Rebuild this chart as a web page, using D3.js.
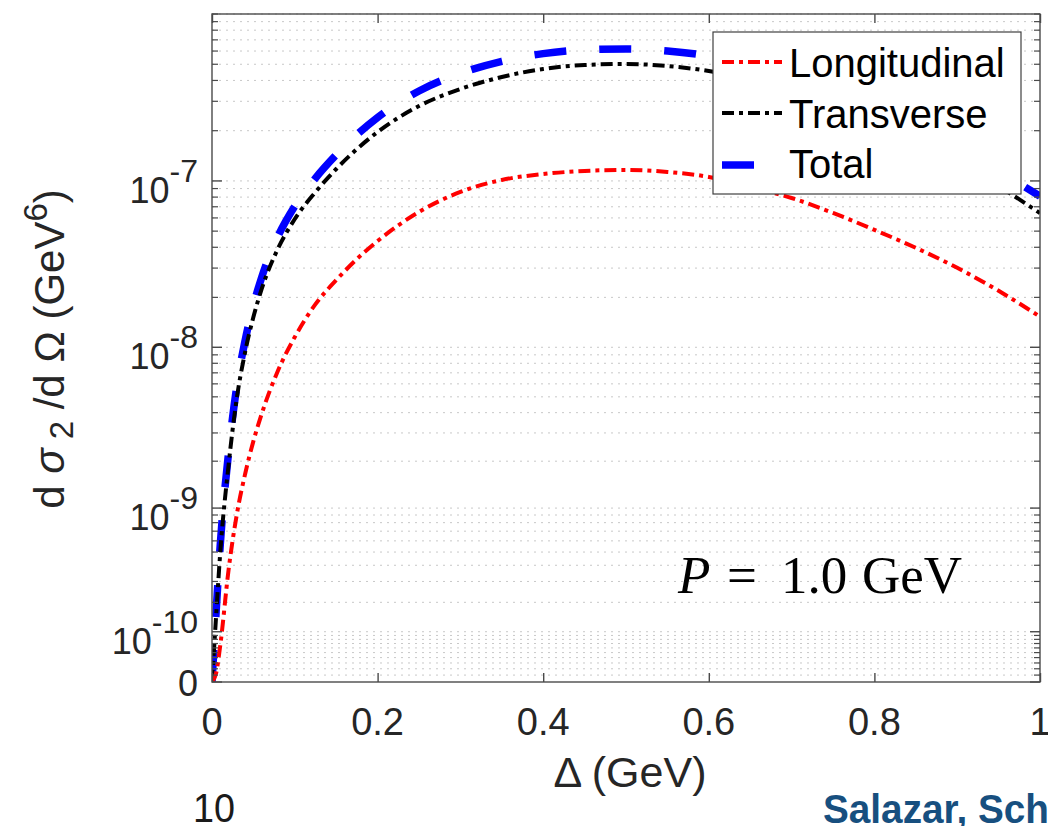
<!DOCTYPE html>
<html>
<head>
<meta charset="utf-8">
<script src="https://cdn.jsdelivr.net/npm/d3@7"></script>
<style>
  html, body { margin: 0; padding: 0; background: #fff; }
  svg { display: block; font-family: "Liberation Sans", Arial, Helvetica, sans-serif; }
</style>
</head>
<body>
<svg id="chart" width="1048" height="826"></svg>
<script>
// ---- data ----
const delta = [0, 0.005, 0.01, 0.02, 0.03, 0.04, 0.05, 0.06, 0.08, 0.1, 0.125, 0.15, 0.175, 0.2, 0.25, 0.3, 0.35, 0.4, 0.45, 0.5, 0.55, 0.6, 0.65, 0.7, 0.75, 0.8, 0.85, 0.9, 0.95, 1.0];
const longitudinal = [0, 1.3e-11, 6.6e-11, 3.69e-10, 9.1e-10, 1.66e-9, 2.67e-9, 3.93e-9, 7.28e-9, 1.154e-8, 1.82e-8, 2.54e-8, 3.40e-8, 4.36e-8, 6.52e-8, 8.59e-8, 1.014e-7, 1.10e-7, 1.148e-7, 1.164e-7, 1.132e-7, 1.057e-7, 9.2e-8, 7.9e-8, 6.43e-8, 5.09e-8, 3.97e-8, 3.01e-8, 2.19e-8, 1.53e-8];
const transverse = [0, 1.5e-10, 5.0e-10, 1.89e-9, 4.92e-9, 9.36e-9, 1.523e-8, 2.246e-8, 3.96e-8, 5.91e-8, 8.58e-8, 1.179e-7, 1.553e-7, 1.964e-7, 2.811e-7, 3.554e-7, 4.195e-7, 4.685e-7, 4.95e-7, 5.02e-7, 4.88e-7, 4.56e-7, 4.08e-7, 3.51e-7, 2.89e-7, 2.32e-7, 1.81e-7, 1.335e-7, 9.33e-8, 6.42e-8];
const total = [0, 1.63e-10, 5.66e-10, 2.26e-9, 5.83e-9, 1.10e-8, 1.79e-8, 2.64e-8, 4.69e-8, 7.06e-8, 1.04e-7, 1.433e-7, 1.893e-7, 2.40e-7, 3.46e-7, 4.41e-7, 5.21e-7, 5.79e-7, 6.10e-7, 6.18e-7, 6.01e-7, 5.62e-7, 5.0e-7, 4.30e-7, 3.53e-7, 2.83e-7, 2.21e-7, 1.64e-7, 1.15e-7, 8.1e-8];

const xTicks = [0, 0.2, 0.4, 0.6, 0.8, 1];
const xTickLabels = ["0", "0.2", "0.4", "0.6", "0.8", "1"];
const yMajorTicks = [0, 1e-10, 1e-9, 1e-8, 1e-7];
const yMajorExp = [null, "-10", "-9", "-8", "-7"];
const seriesNames = ["Longitudinal", "Transverse", "Total"];
const seriesColors = ["#ff0000", "#000000", "#0000ff"];
const yOffset = 1e-10;   // axis shows log10(value + 1e-10), so 0 sits at the bottom

// ---- layout ----
const L = 212, R = 1040, T = 14, B = 682;
const svg = d3.select("#chart");

const x = d3.scaleLinear().domain([0, 1]).range([L, R]);
const yLog = d3.scaleLog().domain([yOffset, 1e-6 + yOffset]).range([B, T]);
const y = v => yLog(v + yOffset);

// minor tick values
const yMinor = [];
for (let e = -11; e <= -7; e++) {
  for (let k = 1; k <= 9; k++) {
    const v = k * Math.pow(10, e);
    if (yMajorTicks.some(t => t > 0 && Math.abs(t - v) / t < 1e-6)) continue;
    yMinor.push(v);
  }
}
yMinor.push(1e-6);

// ---- grid ----
const grid = svg.append("g");
grid.selectAll("line").data(yMinor.concat(yMajorTicks.slice(1))).join("line")
  .attr("x1", L).attr("x2", R)
  .attr("y1", d => y(d)).attr("y2", d => y(d))
  .attr("stroke", "#c8c8c8").attr("stroke-width", 1)
  .attr("stroke-dasharray", "2,5");

// ---- curves ----
const series = [longitudinal, transverse, total];
const styles = [
  { w: 4, dash: "12,5,4,5" },
  { w: 4, dash: "12,5,4,5" },
  { w: 7.5, dash: "32,33" }
];
const line = d3.line().x((d, i) => x(delta[i])).y(d => y(d)).curve(d3.curveMonotoneX);
svg.append("defs").append("clipPath").attr("id", "clip")
  .append("rect").attr("x", L).attr("y", T).attr("width", R - L).attr("height", B - T);
const curves = svg.append("g").attr("clip-path", "url(#clip)");
[2, 1, 0].forEach(i => {
  curves.append("path").datum(series[i])
    .attr("d", line)
    .attr("fill", "none")
    .attr("stroke", seriesColors[i])
    .attr("stroke-width", styles[i].w)
    .attr("stroke-dasharray", styles[i].dash);
});

// ---- axes box ----
const axisColor = "#4a4a4a";
svg.append("rect").attr("x", L).attr("y", T).attr("width", R - L).attr("height", B - T)
  .attr("fill", "none").attr("stroke", axisColor).attr("stroke-width", 1.4);

const xAxisB = d3.axisBottom(x).tickValues(xTicks).tickSize(-9).tickFormat("");
svg.append("g").attr("transform", `translate(0,${B})`).call(xAxisB)
  .call(g => g.select(".domain").remove())
  .call(g => g.selectAll(".tick line").attr("stroke", axisColor).attr("stroke-width", 1.4));
const xAxisT = d3.axisTop(x).tickValues(xTicks).tickSize(-9).tickFormat("");
svg.append("g").attr("transform", `translate(0,${T})`).call(xAxisT)
  .call(g => g.select(".domain").remove())
  .call(g => g.selectAll(".tick line").attr("stroke", axisColor).attr("stroke-width", 1.4));

function yTicks(xPos, dir) {
  const g = svg.append("g");
  g.selectAll("line.maj").data(yMajorTicks).join("line")
    .attr("x1", xPos).attr("x2", xPos + dir * 10)
    .attr("y1", d => y(d)).attr("y2", d => y(d))
    .attr("stroke", axisColor).attr("stroke-width", 1.4);
  g.selectAll("line.min").data(yMinor).join("line")
    .attr("x1", xPos).attr("x2", xPos + dir * 6)
    .attr("y1", d => y(d)).attr("y2", d => y(d))
    .attr("stroke", axisColor).attr("stroke-width", 1.2);
}
yTicks(L, 1);
yTicks(R, -1);

// x tick labels
svg.append("g").selectAll("text").data(xTicks).join("text")
  .attr("x", d => x(d)).attr("y", 735)
  .attr("text-anchor", "middle")
  .attr("font-size", 38).attr("fill", "#262626")
  .text((d, i) => xTickLabels[i]);

// y tick labels
const yl = svg.append("g");
yMajorTicks.forEach((v, i) => {
  const t = yl.append("text").attr("x", 198).attr("text-anchor", "end")
    .attr("font-size", 36).attr("fill", "#262626");
  if (yMajorExp[i] === null) {
    t.attr("y", y(v) + 14).text("0");
  } else {
    t.attr("y", y(v) + 22);
    t.append("tspan").text("10");
    t.append("tspan").attr("dy", -21).attr("font-size", 32).text(yMajorExp[i]);
  }
});

// axis labels
svg.append("text").attr("x", 630).attr("y", 787).attr("text-anchor", "middle")
  .attr("font-size", 43).attr("fill", "#262626").text("Δ (GeV)");

const ylab = svg.append("text")
  .attr("transform", "translate(64,349) rotate(-90)")
  .attr("text-anchor", "middle").attr("font-size", 42).attr("fill", "#262626");
ylab.append("tspan").text("d  ");
ylab.append("tspan").attr("font-style", "italic").text("σ");
ylab.append("tspan").attr("dy", 9).attr("font-size", 33).text(" 2");
ylab.append("tspan").attr("dy", -9).text(" /d ");
ylab.append("tspan").text("Ω");
ylab.append("tspan").text(" (GeV");
ylab.append("tspan").attr("dy", -17).attr("font-size", 33).text("6");
ylab.append("tspan").attr("dy", 17).text(")");

// annotation
const ann = svg.append("text").attr("y", 593)
  .attr("font-family", "'Liberation Serif', 'Times New Roman', serif")
  .attr("font-size", 53).attr("fill", "#000");
ann.append("tspan").attr("x", 678).attr("font-style", "italic").text("P");
ann.append("tspan").attr("x", 727).text("=");
ann.append("tspan").attr("x", 781).text("1.0");
ann.append("tspan").attr("x", 862).text("GeV");

// legend
const lg = svg.append("g");
lg.append("rect").attr("x", 713).attr("y", 32).attr("width", 308).attr("height", 162)
  .attr("fill", "#fff").attr("stroke", "#404040").attr("stroke-width", 1.2);
const rowY = [62, 113, 165];
const textY = [77, 128, 178];
seriesNames.forEach((name, i) => {
  lg.append("line").attr("x1", 722).attr("x2", 782).attr("y1", rowY[i]).attr("y2", rowY[i])
    .attr("stroke", seriesColors[i]).attr("stroke-width", styles[i].w)
    .attr("stroke-dasharray", styles[i].dash);
  lg.append("text").attr("x", 789).attr("y", textY[i]).attr("font-size", 40)
    .attr("fill", "#000").text(name);
});

// slide remnants
svg.append("text").attr("x", 193).attr("y", 822).attr("font-size", 40)
  .attr("fill", "#1a1a1a").attr("textLength", 42).attr("lengthAdjust", "spacingAndGlyphs").text("10");
svg.append("text").attr("x", 823).attr("y", 823).attr("font-size", 41).attr("font-weight", "bold")
  .attr("fill", "#174f7f").attr("textLength", 226).attr("lengthAdjust", "spacingAndGlyphs").text("Salazar, Sch");
</script>
</body>
</html>
